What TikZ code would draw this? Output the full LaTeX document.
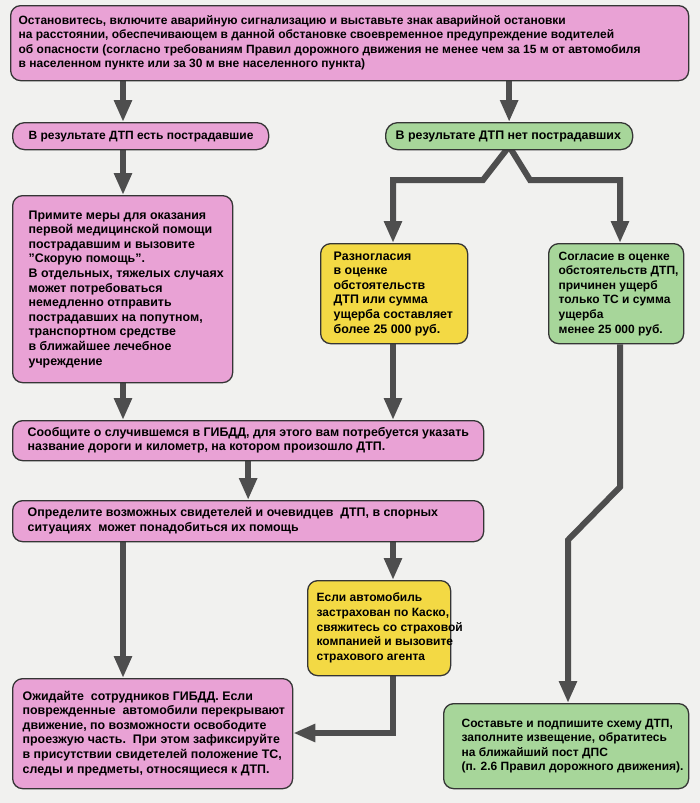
\documentclass[tikz,border=0pt]{standalone}
\usepackage{fontspec}
\setmainfont{Liberation Sans}
\usetikzlibrary{arrows.meta}
\definecolor{pinkf}{HTML}{E9A2D5}
\definecolor{greenf}{HTML}{A7D69A}
\definecolor{yellowf}{HTML}{F3D944}
\definecolor{edgec}{HTML}{353535}
\definecolor{arrowc}{HTML}{4E4E4E}
\definecolor{bgc}{HTML}{F1F1EF}
\pgfdeclarelayer{backdrop}
\pgfdeclarelayer{background}
\pgfsetlayers{backdrop,background,main}
\newcommand\boxtext[2]{\makebox[#1][l]{\begin{tabular}{@{}l@{}}#2\end{tabular}}}
\begin{document}
\begin{tikzpicture}[x=1pt,y=-1pt,
  box/.style={draw=edgec, line width=1.3pt, rounded corners=10pt, anchor=north west,
    inner ysep=0pt, font=\bfseries\fontsize{12.4}{14.6}\selectfont},
  smallfont/.style={font=\bfseries\fontsize{12}{14.6}\selectfont},
  pinkbox/.style={box, fill=pinkf},
  greenbox/.style={box, fill=greenf},
  yellowbox/.style={box, fill=yellowf},
  conn/.style={draw=arrowc, line width=6pt, -{Triangle[length=22pt,width=17pt]}}]

\useasboundingbox (0,0) rectangle (700,803);
\begin{pgfonlayer}{backdrop}
  \fill[bgc] (0,0) rectangle (700,803);
\end{pgfonlayer}

% boxes
\node[pinkbox, smallfont, minimum width=678pt, minimum height=75pt, inner xsep=8pt] (top) at (10,5)
  {\boxtext{662pt}{Остановитесь, включите аварийную сигнализацию и выставьте знак аварийной остановки\\
  на расстоянии, обеспечивающем в данной обстановке своевременное предупреждение водителей\\
  об опасности (согласно требованиям Правил дорожного движения не менее чем за 15 м от автомобиля\\
  в населенном пункте или за 30 м вне населенного пункта)}};

\node[pinkbox, smallfont, rounded corners=12pt, minimum width=256pt, minimum height=27pt, inner xsep=16pt] (est) at (12,122)
  {\boxtext{224pt}{В результате ДТП есть пострадавшие}};

\node[greenbox, rounded corners=12pt, minimum width=247pt, minimum height=27pt, inner xsep=10pt] (net) at (385,122)
  {\boxtext{227pt}{В результате ДТП нет пострадавших}};

\node[pinkbox, minimum width=220pt, minimum height=187pt, inner xsep=16pt] (help) at (12,195)
  {\boxtext{188pt}{Примите меры для оказания\\
  первой медицинской помощи\\
  пострадавшим и вызовите\\
  "Скорую помощь".\\
  В отдельных, тяжелых случаях\\
  может потребоваться\\
  немедленно отправить\\
  пострадавших на попутном,\\
  транспортном средстве\\
  в ближайшее лечебное\\
  учреждение}};

\node[yellowbox, minimum width=147pt, minimum height=100pt, inner xsep=13pt] (disp) at (320,243)
  {\boxtext{121pt}{Разногласия\\
  в оценке\\
  обстоятельств\\
  ДТП или сумма\\
  ущерба составляет\\
  более 25 000 руб.}};

\node[greenbox, smallfont, minimum width=135pt, minimum height=100pt, inner xsep=10pt] (agree) at (548,243)
  {\boxtext{115pt}{Согласие в оценке\\
  обстоятельств ДТП,\\
  причинен ущерб\\
  только ТС и сумма\\
  ущерба\\
  менее 25 000 руб.}};

\node[pinkbox, minimum width=471pt, minimum height=40pt, inner xsep=15pt] (report) at (12,420)
  {\boxtext{441pt}{Сообщите о случившемся в ГИБДД, для этого вам потребуется указать\\
  название дороги и километр, на котором произошло ДТП.}};

\node[pinkbox, minimum width=471pt, minimum height=41pt, inner xsep=15pt] (witn) at (12,500)
  {\boxtext{441pt}{Определите возможных свидетелей и очевидцев\ \ ДТП, в спорных\\
  ситуациях\ \ может понадобиться их помощь}};

\node[yellowbox, smallfont, minimum width=143pt, minimum height=95pt, inner xsep=9pt] (kasko) at (307,580)
  {\boxtext{125pt}{Если автомобиль\\
  застрахован по Каско,\\
  свяжитесь со страховой\\
  компанией и вызовите\\
  страхового агента}};

\node[pinkbox, minimum width=280pt, minimum height=110pt, inner xsep=10pt] (wait) at (12,678)
  {\boxtext{260pt}{Ожидайте\ \ сотрудников ГИБДД. Если\\
  поврежденные\ \ автомобили перекрывают\\
  движение, по возможности освободите\\
  проезжую часть.\ \ При этом зафиксируйте\\
  в присутствии свидетелей положение ТС,\\
  следы и предметы, относящиеся к ДТП.}};

\node[greenbox, smallfont, minimum width=245pt, minimum height=85pt, inner xsep=18pt] (scheme) at (443,703)
  {\boxtext{209pt}{Составьте и подпишите схему ДТП,\\
  заполните извещение, обратитесь\\
  на ближайший пост ДПС\\
  (п. 2.6 Правил дорожного движения).}};

% column coordinates and bends
\coordinate (cA) at (123,0);
\coordinate (cB) at (393,0);
\coordinate (cC) at (620,0);
\coordinate (cD) at (568,0);
\coordinate (nL) at (483,180);
\coordinate (nLc) at (393,180);
\coordinate (nR) at (530,180);
\coordinate (nRc) at (620,180);
\coordinate (kY) at (393,733);
\coordinate (kG1) at (620,487);
\coordinate (kG2) at (568,540);

\begin{pgfonlayer}{background}
  \draw[conn] (top.south -| cA) -- (est.north -| cA);
  \draw[conn] (top.south -| net.north) -- (net.north);
  \draw[conn] ([yshift=4pt]net.south) -- (nL) -- (nLc) -- (disp.north -| cB);
  \draw[conn] ([yshift=4pt]net.south) -- (nR) -- (nRc) -- (agree.north -| cC);
  \draw[conn] (est.south -| cA) -- (help.north -| cA);
  \draw[conn] (help.south -| cA) -- (report.north -| cA);
  \draw[conn] (disp.south -| cB) -- (report.north -| cB);
  \draw[conn] (report.south) -- (witn.north);
  \draw[conn] (witn.south -| cA) -- (wait.north -| cA);
  \draw[conn] (witn.south -| cB) -- (kasko.north -| cB);
  \draw[conn] (kasko.south -| cB) -- (kY) -- (wait.east |- kY);
  \draw[conn] (agree.south -| cC) -- (kG1) -- (kG2) -- (scheme.north -| cD);
\end{pgfonlayer}
\end{tikzpicture}
\end{document}
